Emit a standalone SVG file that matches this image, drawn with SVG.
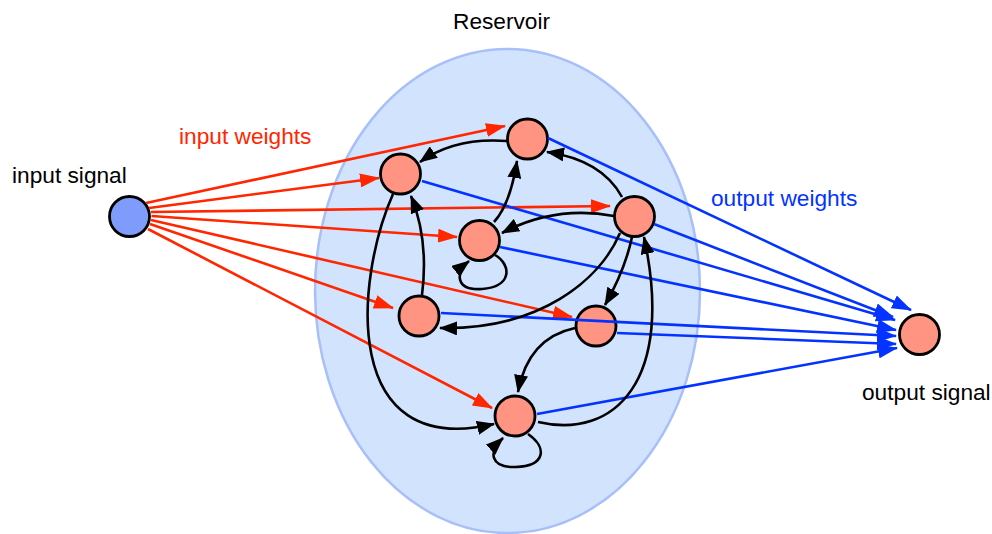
<svg xmlns="http://www.w3.org/2000/svg" width="992" height="534" viewBox="0 0 992 534">
  <defs>
    <style>
      .lbl { font-family: "Liberation Sans", Arial, sans-serif; font-size: 22.7px; }
      .node { fill: #ff9482; stroke: #000; stroke-width: 2.8; }
      .in-node { fill: #7f9bfb; stroke: #000; stroke-width: 2.8; }
      .w-in { fill: none; stroke: #ff2600; stroke-width: 2.6; marker-end: url(#ah-red); }
      .w-out { fill: none; stroke: #0433ff; stroke-width: 2.6; marker-end: url(#ah-blue); }
      .rec { fill: none; stroke: #000; stroke-width: 2.6; marker-end: url(#ah-black); }
    </style>
    <marker id="ah-red" viewBox="0 0 20 14" refX="19" refY="7" markerWidth="20" markerHeight="14" markerUnits="userSpaceOnUse" orient="auto">
      <path d="M0,0 L20,7 L0,14 z" fill="#ff2600"/>
    </marker>
    <marker id="ah-blue" viewBox="0 0 20 14" refX="19" refY="7" markerWidth="20" markerHeight="14" markerUnits="userSpaceOnUse" orient="auto">
      <path d="M0,0 L20,7 L0,14 z" fill="#0433ff"/>
    </marker>
    <marker id="ah-black" viewBox="0 0 18 14" refX="17" refY="7" markerWidth="18" markerHeight="14" markerUnits="userSpaceOnUse" orient="auto">
      <path d="M0,0 L18,7 L0,14 z" fill="#000"/>
    </marker>
  </defs>

  <rect width="992" height="534" fill="#fff"/>

  <!-- reservoir body -->
  <g id="reservoir">
    <ellipse cx="507.5" cy="291" rx="192.5" ry="242" fill="#d1e3fd" stroke="#a8bffa" stroke-width="2.5"/>
    <text class="lbl" x="453" y="29" fill="#000">Reservoir</text>
  </g>

  <!-- labels -->
  <text class="lbl" x="179" y="144" fill="#ff2600">input weights</text>
  <text class="lbl" x="12" y="183" fill="#000">input signal</text>
  <text class="lbl" x="711" y="206" fill="#0433ff">output weights</text>
  <text class="lbl" x="862" y="400" fill="#000">output signal</text>

  <!-- nodes -->
  <g id="input"><circle class="in-node" cx="129.5" cy="216.5" r="20"/></g>
  <g id="n1"><circle class="node" cx="527.5" cy="139" r="20"/></g>
  <g id="n2"><circle class="node" cx="400.5" cy="174" r="20"/></g>
  <g id="n3"><circle class="node" cx="634.5" cy="216.5" r="20"/></g>
  <g id="n4"><circle class="node" cx="479.5" cy="240.5" r="20"/></g>
  <g id="n5"><circle class="node" cx="419" cy="316" r="20"/></g>
  <g id="n6"><circle class="node" cx="596" cy="326" r="20"/></g>
  <g id="n7"><circle class="node" cx="515" cy="416" r="20"/></g>
  <g id="output"><circle class="node" cx="919.5" cy="334.5" r="20"/></g>

  <g id="connectors">
    <!-- input weights -->
    <g id="input-weights">
      <path class="w-in" d="M146,203 L505,126"/>
      <path class="w-in" d="M149,208 L379,178"/>
      <path class="w-in" d="M151,212 L610,206"/>
      <path class="w-in" d="M151.5,216 L457,237"/>
      <path class="w-in" d="M151,220 L572,317"/>
      <path class="w-in" d="M150,224 L393,308"/>
      <path class="w-in" d="M148,229 L492,408"/>
    </g>
    <!-- output weights -->
    <g id="output-weights">
      <path class="w-out" d="M548,138 L911,310"/>
      <path class="w-out" d="M422,181 L895,320"/>
      <path class="w-out" d="M654,224 L893,317"/>
      <path class="w-out" d="M500,247 L896,330"/>
      <path class="w-out" d="M441,313 L896,336"/>
      <path class="w-out" d="M617,333 L896,344"/>
      <path class="w-out" d="M537,414 L897,348"/>
    </g>
    <!-- recurrent links -->
    <g id="recurrent">
      <path class="rec" d="M507,141 Q455,137 420,162"/>
      <path class="rec" d="M494,222 Q510,205 517,161"/>
      <path class="rec" d="M622,197 Q602,160 547,152"/>
      <path class="rec" d="M614,216 Q555,205 502,233"/>
      <path class="rec" d="M495,255 C512,265 512,287 482,289 C455,291 455,272 469,261"/>
      <path class="rec" d="M422,295 Q429,240 411,196"/>
      <path class="rec" d="M393,194 C355,280 340,460 494,424"/>
      <path class="rec" d="M620,233 C600,280 540,330 440,328"/>
      <path class="rec" d="M632,237 Q625,270 605,305"/>
      <path class="rec" d="M538,422 C615,440 675,380 644,237"/>
      <path class="rec" d="M575,328 Q528,338 518,392"/>
      <path class="rec" d="M528,434 C548,448 545,466 516,467 C490,468 488,452 503,438"/>
    </g>
  </g>
</svg>
